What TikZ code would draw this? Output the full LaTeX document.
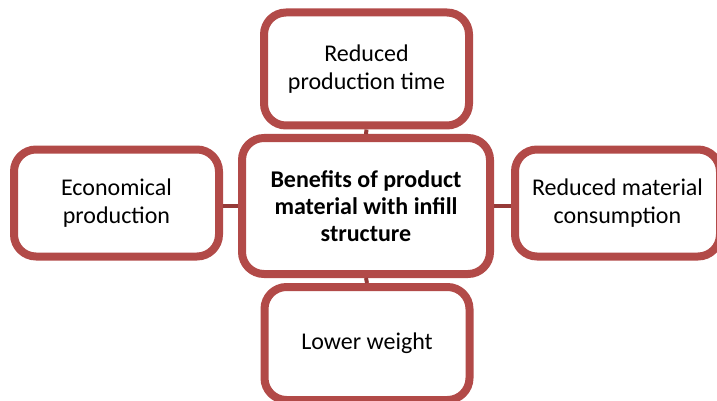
\documentclass[tikz,border=0pt]{standalone}
\usepackage{fontspec}
\setmainfont{Carlito}
\usetikzlibrary{shadows}
\definecolor{boxred}{RGB}{178,74,72}
\definecolor{linkred}{RGB}{150,58,56}
\tikzset{
  benefit/.style={draw=boxred, fill=white, line width=8pt, rounded corners=22pt,
    minimum width=205pt, minimum height=110pt, align=center, inner sep=4pt,
    font=\fontsize{24}{28.5}\selectfont,
    drop shadow={shadow xshift=2pt, shadow yshift=-3pt, opacity=0.3, fill=black!60}},
  hub/.style={benefit, minimum width=248pt, minimum height=136pt,
    font=\fontsize{24}{27}\selectfont\bfseries},
  link/.style={draw=linkred, line width=4pt}
}
\begin{document}
\begin{tikzpicture}[x=1pt,y=-1pt]
\useasboundingbox (0,0) rectangle (717,401);
\clip (0,0) rectangle (717,401);
\node[benefit, minimum height=113pt] (top) at (366.5,69) {Reduced\\production time};
\node[hub] (c) at (366,206) {Benefits of product\\material with infill\\structure};
\node[benefit, minimum height=107pt] (l) at (116.5,203) {Economical\\production};
\node[benefit, minimum height=107pt] (r) at (617.5,203) {Reduced material\\consumption};
\node[benefit, minimum height=113pt] (b) at (367,343.5) {Lower weight};
\draw[link] (c.north) -- (top.south);
\draw[link] (c.south) -- (b.north);
\draw[link] (c.west) -- (c.west -| l.east);
\draw[link] (c.east) -- (c.east -| r.west);
\end{tikzpicture}
\end{document}
